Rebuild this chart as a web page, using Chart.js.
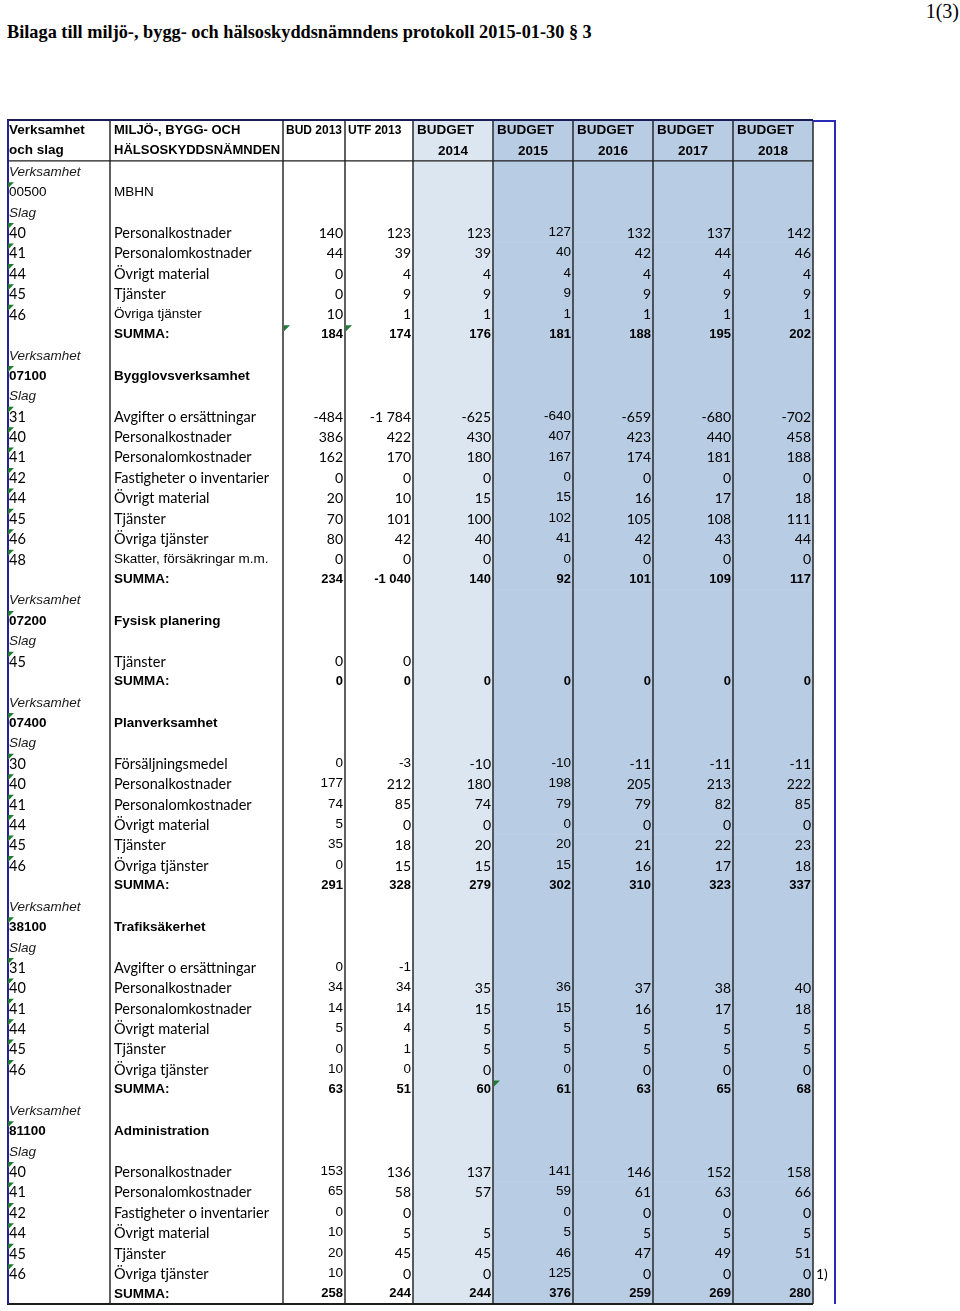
<!DOCTYPE html>
<html lang="sv">
<head>
<meta charset="UTF-8">
<title>Bilaga protokoll 2015-01-30</title>
<script src="https://cdn.jsdelivr.net/npm/chart.js"></script>
<style>
  body { margin: 0; background: #fff; width: 960px; height: 1311px; position: relative; overflow: hidden; }
  #titel { position: absolute; left: 7px; top: 22px; font: bold 18.3px "Liberation Serif", serif; white-space: nowrap; }
  #sida { position: absolute; right: 1px; top: 0px; font: 20px "Liberation Serif", serif; }
  #wrap { position: absolute; left: 0; top: 0; width: 960px; height: 1311px; }
</style>
</head>
<body>
<div id="titel">Bilaga till miljö-, bygg- och hälsoskyddsnämndens protokoll 2015-01-30 § 3</div>
<div id="sida">1(3)</div>
<div id="wrap"><canvas id="tabell" width="960" height="1311"></canvas></div>

<script>
// rader: kod / benämning / typ
var koder = ['Verksamhet','00500','Slag','40','41','44','45','46','',
  'Verksamhet','07100','Slag','31','40','41','42','44','45','46','48','',
  'Verksamhet','07200','Slag','45','',
  'Verksamhet','07400','Slag','30','40','41','44','45','46','',
  'Verksamhet','38100','Slag','31','40','41','44','45','46','',
  'Verksamhet','81100','Slag','40','41','42','44','45','46',''];
var namn = ['','MBHN','','Personalkostnader','Personalomkostnader','Övrigt material','Tjänster','Övriga tjänster','SUMMA:',
  '','Bygglovsverksamhet','','Avgifter o ersättningar','Personalkostnader','Personalomkostnader','Fastigheter o inventarier','Övrigt material','Tjänster','Övriga tjänster','Skatter, försäkringar m.m.','SUMMA:',
  '','Fysisk planering','','Tjänster','SUMMA:',
  '','Planverksamhet','','Försäljningsmedel','Personalkostnader','Personalomkostnader','Övrigt material','Tjänster','Övriga tjänster','SUMMA:',
  '','Trafiksäkerhet','','Avgifter o ersättningar','Personalkostnader','Personalomkostnader','Övrigt material','Tjänster','Övriga tjänster','SUMMA:',
  '','Administration','','Personalkostnader','Personalomkostnader','Fastigheter o inventarier','Övrigt material','Tjänster','Övriga tjänster','SUMMA:'];
var typ = ['verk','enhet','slag','post','post','post','post','post','summa',
  'verk','enhetB','slag','post','post','post','post','post','post','post','post','summa',
  'verk','enhetB','slag','post','summa',
  'verk','enhetB','slag','post','post','post','post','post','post','summa',
  'verk','enhetB','slag','post','post','post','post','post','post','summa',
  'verk','enhetB','slag','post','post','post','post','post','post','summa'];

var kolumner = ['BUD 2013','UTF 2013','2014','2015','2016','2017','2018'];

var _ = null;
var bud2013 = [_,_,_,140,44,0,0,10,184, _,_,_,-484,386,162,0,20,70,80,0,234, _,_,_,0,0, _,_,_,0,177,74,5,35,0,291, _,_,_,0,34,14,5,0,10,63, _,_,_,153,65,0,10,20,10,258];
var utf2013 = [_,_,_,123,39,4,9,1,174, _,_,_,-1784,422,170,0,10,101,42,0,-1040, _,_,_,0,0, _,_,_,-3,212,85,0,18,15,328, _,_,_,-1,34,14,4,1,0,51, _,_,_,136,58,0,5,45,0,244];
var budget2014 = [_,_,_,123,39,4,9,1,176, _,_,_,-625,430,180,0,15,100,40,0,140, _,_,_,_,0, _,_,_,-10,180,74,0,20,15,279, _,_,_,_,35,15,5,5,0,60, _,_,_,137,57,_,5,45,0,244];
var budget2015 = [_,_,_,127,40,4,9,1,181, _,_,_,-640,407,167,0,15,102,41,0,92, _,_,_,_,0, _,_,_,-10,198,79,0,20,15,302, _,_,_,_,36,15,5,5,0,61, _,_,_,141,59,0,5,46,125,376];
var budget2016 = [_,_,_,132,42,4,9,1,188, _,_,_,-659,423,174,0,16,105,42,0,101, _,_,_,_,0, _,_,_,-11,205,79,0,21,16,310, _,_,_,_,37,16,5,5,0,63, _,_,_,146,61,0,5,47,0,259];
var budget2017 = [_,_,_,137,44,4,9,1,195, _,_,_,-680,440,181,0,17,108,43,0,109, _,_,_,_,0, _,_,_,-11,213,82,0,22,17,323, _,_,_,_,38,17,5,5,0,65, _,_,_,152,63,0,5,49,0,269];
var budget2018 = [_,_,_,142,46,4,9,1,202, _,_,_,-702,458,188,0,18,111,44,0,117, _,_,_,_,0, _,_,_,-11,222,85,0,23,18,337, _,_,_,_,40,18,5,5,0,68, _,_,_,158,66,0,5,51,0,280];
var fotnot = {rad: 54, text: '1)'};

var serier = [bud2013, utf2013, budget2014, budget2015, budget2016, budget2017, budget2018];

// layout (sidkoordinater)
var KANTER = [7, 110, 283, 345, 413, 493, 573, 653, 733, 813];
var HOGER = 835;

var etiketter = ['h0', 'h1'].concat(koder.map(function (k, i) { return 'r' + i; }));

function fmt(v) {
  var a = Math.abs(v), s;
  if (a >= 1000) s = Math.floor(a / 1000) + ' ' + String(a % 1000).padStart(3, '0');
  else s = String(a);
  return (v < 0 ? '-' : '') + s;
}

var CAL = '"Lato", "Carlito", sans-serif';
var ARI = '"Liberation Sans", Arial, sans-serif';

function arialCell(r, c) {
  if (c === 3) return true;
  if (c === 0 && r >= 29) return true;
  if (c === 1 && (r === 29 || (r >= 39 && r <= 44))) return true;
  return false;
}

var tabellPlugin = {
  id: 'tabellPlugin',
  afterDatasetsDraw: function (chart) {
    var ctx = chart.ctx, a = chart.chartArea, x = chart.scales.x, y = chart.scales.y;
    var band = y.getPixelForValue(1) - y.getPixelForValue(0);
    function mid(i) { return y.getPixelForValue(i); }
    function top(i) { return y.getPixelForValue(i) - band / 2; }
    var X = KANTER.map(function (k) { return x.getPixelForValue(k); });
    var xr = x.getPixelForValue(HOGER);

    ctx.save();
    // linjer
    ctx.strokeStyle = '#1d1d1d';
    ctx.lineWidth = 1.4;
    for (var k = 1; k < X.length; k++) {
      ctx.beginPath(); ctx.moveTo(X[k], a.top); ctx.lineTo(X[k], a.bottom); ctx.stroke();
    }
    ctx.beginPath(); ctx.moveTo(X[0], top(2)); ctx.lineTo(X[9], top(2)); ctx.stroke();
    ctx.lineWidth = 1.8;
    ctx.beginPath(); ctx.moveTo(X[0], a.bottom); ctx.lineTo(X[9], a.bottom); ctx.stroke();
    ctx.strokeStyle = '#1a1a55';
    ctx.beginPath(); ctx.moveTo(X[0], a.top); ctx.lineTo(X[9], a.top); ctx.stroke();
    ctx.strokeStyle = '#2a2ab8';
    ctx.lineWidth = 2;
    ctx.beginPath(); ctx.moveTo(X[9], a.top + 1); ctx.lineTo(xr, a.top + 1); ctx.lineTo(xr, a.bottom); ctx.stroke();
    ctx.strokeStyle = '#23238f';
    ctx.beginPath(); ctx.moveTo(X[0] + 1, a.top); ctx.lineTo(X[0] + 1, a.bottom); ctx.stroke();

    ctx.fillStyle = '#000';
    ctx.textBaseline = 'middle';
    // rubrik
    ctx.font = 'bold 13.5px ' + ARI;
    ctx.textAlign = 'left';
    ctx.fillText('Verksamhet', X[0] + 2, mid(0));
    ctx.fillText('och slag', X[0] + 2, mid(1));
    ctx.font = 'bold 13px ' + ARI;
    ctx.fillText('MILJÖ-, BYGG- OCH', X[1] + 4, mid(0));
    ctx.fillText('HÄLSOSKYDDSNÄMNDEN', X[1] + 4, mid(1));
    ctx.font = 'bold 12px ' + ARI;
    ctx.fillText(kolumner[0], X[2] + 3, mid(0));
    ctx.fillText(kolumner[1], X[3] + 3, mid(0));
    ctx.font = 'bold 13.5px ' + ARI;
    for (var c = 2; c < kolumner.length; c++) {
      ctx.textAlign = 'left';
      ctx.fillText('BUDGET', X[c + 2] + 4, mid(0));
      ctx.textAlign = 'center';
      ctx.fillText(kolumner[c], (X[c + 2] + X[c + 3]) / 2, mid(1) + 1);
    }

    // rader
    for (var r = 0; r < koder.length; r++) {
      var i = r + 2, ym = mid(i) + 1, t = typ[r];
      ctx.textAlign = 'left';
      if (t === 'verk' || t === 'slag') {
        ctx.font = 'italic 13.5px ' + ARI;
        ctx.fillStyle = '#1a1a1a';
        ctx.fillText(koder[r], X[0] + 2, ym);
      } else if (t === 'enhet' || t === 'enhetB') {
        ctx.font = (t === 'enhetB' ? 'bold ' : '') + '13.5px ' + ARI;
        ctx.fillStyle = '#000';
        ctx.fillText(koder[r], X[0] + 2, ym);
        ctx.fillText(namn[r], X[1] + 4, ym);
      } else if (t === 'post') {
        ctx.fillStyle = '#000';
        ctx.font = '14.5px ' + CAL;
        ctx.fillText(koder[r], X[0] + 2, ym);
        var arialNamn = (r === 7 || r === 19);
        ctx.font = arialNamn ? '13.5px ' + ARI : '14.5px ' + CAL;
        ctx.fillText(namn[r], X[1] + 4, arialNamn ? ym - 1 : ym);
      } else if (t === 'summa') {
        ctx.fillStyle = '#000';
        ctx.font = 'bold 13.5px ' + ARI;
        ctx.fillText(namn[r], X[1] + 4, ym - 1);
      }
      // kommentarsmarkering
      if (t === 'enhet' || t === 'enhetB' || t === 'post') markera(ctx, X[0] + 1, top(i) + 1);

      ctx.textAlign = 'right';
      for (var c2 = 0; c2 < serier.length; c2++) {
        var v = serier[c2][r];
        if (v === null || v === undefined) continue;
        var xx = X[c2 + 3] - 2;
        if (t === 'summa') {
          ctx.font = 'bold 13px ' + ARI;
          ctx.fillText(fmt(v), xx, ym - 1);
        } else if (arialCell(r, c2)) {
          ctx.font = '13.5px ' + ARI;
          ctx.fillText(fmt(v), xx, ym - 1);
        } else {
          ctx.font = '14px ' + CAL;
          ctx.fillText(fmt(v), xx, ym);
        }
      }
    }
    // fler markeringar
    markera(ctx, X[2] + 1, top(10) + 1);
    markera(ctx, X[3] + 1, top(10) + 1);
    markera(ctx, X[5] + 1, top(47) + 1);

    ctx.textAlign = 'left';
    ctx.font = '14px ' + CAL;
    ctx.fillText(fotnot.text, X[9] + 3, mid(fotnot.rad + 2) + 1);
    ctx.restore();
  }
};

function markera(ctx, x0, y0) {
  ctx.fillStyle = '#1f7a32';
  ctx.beginPath();
  ctx.moveTo(x0, y0); ctx.lineTo(x0 + 6, y0); ctx.lineTo(x0, y0 + 6); ctx.closePath();
  ctx.fill();
  ctx.fillStyle = '#000';
}

var ljus = etiketter.map(function () { return [KANTER[4], KANTER[5]]; });
var mork = etiketter.map(function () { return [KANTER[5], KANTER[9]]; });

new Chart(document.getElementById('tabell'), {
  type: 'bar',
  data: {
    labels: etiketter,
    datasets: [
      { label: 'Budget 2014', data: ljus, backgroundColor: '#dce6f1', borderWidth: 0 },
      { label: 'Budget 2015-2018', data: mork, backgroundColor: '#b8cce4', borderWidth: 0 }
    ]
  },
  options: {
    indexAxis: 'y',
    responsive: false,
    animation: false,
    events: [],
    grouped: false,
    barPercentage: 1,
    categoryPercentage: 1,
    layout: { padding: { left: 7, right: 960 - HOGER, top: 120, bottom: 7 } },
    plugins: { legend: { display: false }, tooltip: { enabled: false } },
    scales: {
      x: { type: 'linear', min: KANTER[0], max: HOGER, display: false },
      y: { type: 'category', display: false, offset: true, grid: { display: false } }
    }
  },
  plugins: [tabellPlugin]
});
</script>
</body>
</html>
